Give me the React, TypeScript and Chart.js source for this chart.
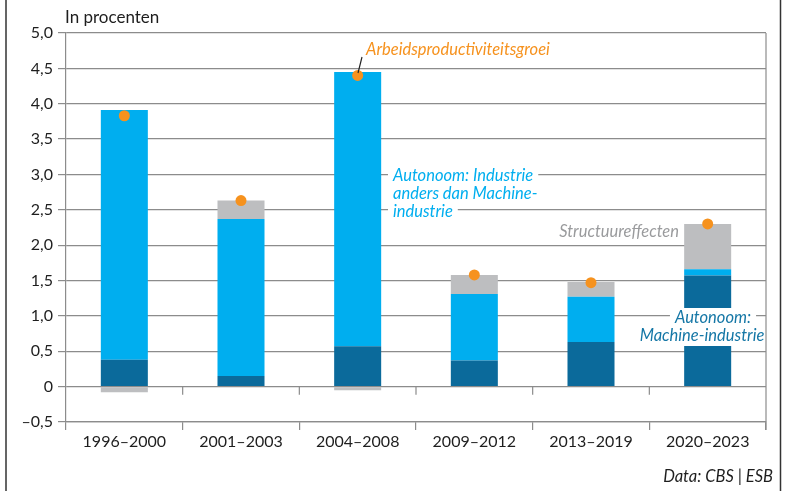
import React, { useEffect, useRef } from "react";
import { Chart, registerables } from "chart.js";

Chart.register(...registerables);

const categories = ["1996–2000", "2001–2003", "2004–2008", "2009–2012", "2013–2019", "2020–2023"];
const machineIndustry = [0.38, 0.15, 0.57, 0.37, 0.63, 1.57];
const otherIndustry = [3.53, 2.22, 3.88, 0.94, 0.64, 0.09];
const structureEffects = [-0.08, 0.26, -0.05, 0.27, 0.21, 0.64];
const productivityGrowth = [3.83, 2.63, 4.4, 1.58, 1.47, 2.3];
const yTickLabels = ["–0,5", "0", "0,5", "1,0", "1,5", "2,0", "2,5", "3,0", "3,5", "4,0", "4,5", "5,0"];

const FONT = "Lato, 'Open Sans', sans-serif";
const TEXT = "#1e1e1e";
const GRID = "#8c8c8c";
const LIGHT = "#00AEEF";
const DARK = "#0B6A9B";
const GRAY = "#BDBEC0";
const ORANGE = "#F6921E";

type Label = { lines: string[]; x: number; y: number; lh: number; color: string; align: CanvasTextAlign; bg: boolean; xs?: number[] };

const labels: Label[] = [
  { lines: ["Arbeidsproductiviteitsgroei"], x: 366, y: 50, lh: 18, color: ORANGE, align: "left", bg: false },
  { lines: ["Autonoom: Industrie", "anders dan Machine-", "industrie"], x: 393, y: 176, lh: 18, color: LIGHT, align: "left", bg: true },
  { lines: ["Structuureffecten"], x: 679, y: 232, lh: 18, color: "#9a9b9d", align: "right", bg: false },
  { lines: ["Autonoom:", "Machine-industrie"], x: 0, y: 318, lh: 18, color: "#1577A6", align: "center", bg: true, xs: [713, 702] },
];

const decor = {
  id: "decor",
  afterDatasetsDraw(chart: any) {
    const ctx = chart.ctx as CanvasRenderingContext2D;
    const area = chart.chartArea;
    const x = chart.scales.x;
    const y = chart.scales.y;
    ctx.save();
    ctx.textBaseline = "middle";
    // labels
    ctx.font = `italic 16.5px ${FONT}`;
    for (const lb of labels) {
      ctx.textAlign = lb.align;
      lb.lines.forEach((t, i) => {
        const ly = lb.y + i * lb.lh;
        const lx = lb.xs ? lb.xs[i] : lb.x;
        const w = ctx.measureText(t).width;
        if (lb.bg) {
          let left = lx;
          if (lb.align === "center") left = lx - w / 2;
          if (lb.align === "right") left = lx - w;
          ctx.fillStyle = "#fff";
          ctx.fillRect(left - 5, ly - lb.lh / 2 - 1, w + 10, lb.lh + 2);
        }
        ctx.fillStyle = lb.color;
        ctx.fillText(t, lx, ly);
      });
    }
    // frame
    ctx.strokeStyle = "#333";
    ctx.lineWidth = 1.5;
    ctx.beginPath();
    ctx.moveTo(6, 0);
    ctx.lineTo(6, 491);
    ctx.moveTo(780.5, 0);
    ctx.lineTo(780.5, 491);
    ctx.stroke();
    // right plot border
    ctx.strokeStyle = GRID;
    ctx.lineWidth = 1.2;
    ctx.beginPath();
    ctx.moveTo(area.right, area.top);
    ctx.lineTo(area.right, area.bottom + 8);
    ctx.stroke();
    // ticks at zero line
    const y0 = y.getPixelForValue(0);
    ctx.beginPath();
    for (let i = 1; i < categories.length; i++) {
      const px = (x.getPixelForValue(i - 1) + x.getPixelForValue(i)) / 2;
      ctx.moveTo(px, y0);
      ctx.lineTo(px, y0 + 8);
    }
    ctx.stroke();
    // unit label
    ctx.fillStyle = TEXT;
    ctx.font = `17px ${FONT}`;
    ctx.textAlign = "left";
    ctx.fillText("In procenten", 65, 18);
    // source
    ctx.font = `italic 16.5px ${FONT}`;
    ctx.textAlign = "right";
    ctx.fillText("Data: CBS | ESB", 773, 477);
    // leader line
    ctx.strokeStyle = "#222";
    ctx.lineWidth = 1.2;
    ctx.beginPath();
    ctx.moveTo(362, 57);
    ctx.lineTo(358, 73);
    ctx.stroke();
    ctx.restore();
  },
};

export default function App() {
  const ref = useRef<HTMLCanvasElement>(null);
  useEffect(() => {
    document.body.style.margin = "0";
    const chart = new Chart(ref.current as HTMLCanvasElement, {
      data: {
        labels: categories,
        datasets: [
          {
            type: "line",
            label: "Arbeidsproductiviteitsgroei",
            data: productivityGrowth,
            showLine: false,
            pointRadius: 5.5,
            pointBackgroundColor: ORANGE,
            pointBorderWidth: 0,
            stack: "dots",
          } as any,
          { type: "bar", label: "Autonoom: Machine-industrie", data: machineIndustry, backgroundColor: DARK, stack: "bars" },
          { type: "bar", label: "Autonoom: Industrie anders dan Machine-industrie", data: otherIndustry, backgroundColor: LIGHT, stack: "bars" },
          { type: "bar", label: "Structuureffecten", data: structureEffects, backgroundColor: GRAY, stack: "bars" },
        ],
      },
      options: {
        responsive: false,
        animation: false,
        devicePixelRatio: 1,
        layout: { padding: { top: 33, right: 24, left: 0, bottom: 0 } },
        datasets: { bar: { categoryPercentage: 1, barPercentage: 0.403 } } as any,
        plugins: { legend: { display: false }, tooltip: { enabled: false } },
        scales: {
          x: {
            stacked: true,
            grid: { display: true, offset: true, drawOnChartArea: false, drawTicks: true, tickLength: 8, color: GRID, lineWidth: 1.2 },
            border: { display: true, color: GRID, width: 1.2 },
            ticks: { color: TEXT, font: { family: FONT, size: 16 }, padding: 2, maxRotation: 0 },
            afterFit(s: any) { s.height = 69; },
          },
          y: {
            stacked: true,
            min: -0.5,
            max: 5,
            grid: { color: GRID, lineWidth: 1.2, tickLength: 8 },
            border: { display: true, color: GRID, width: 1.2 },
            ticks: {
              stepSize: 0.5,
              color: TEXT,
              font: { family: FONT, size: 16 },
              padding: 5,
              callback: (_v: any, i: number) => yTickLabels[i],
            },
            afterFit(s: any) { s.width = 66; },
          },
        },
      },
      plugins: [decor],
    });
    return () => chart.destroy();
  }, []);
  return (
    <div style={{ width: 790, height: 491 }}>
      <canvas ref={ref} width={790} height={491} style={{ display: "block" }} />
    </div>
  );
}
